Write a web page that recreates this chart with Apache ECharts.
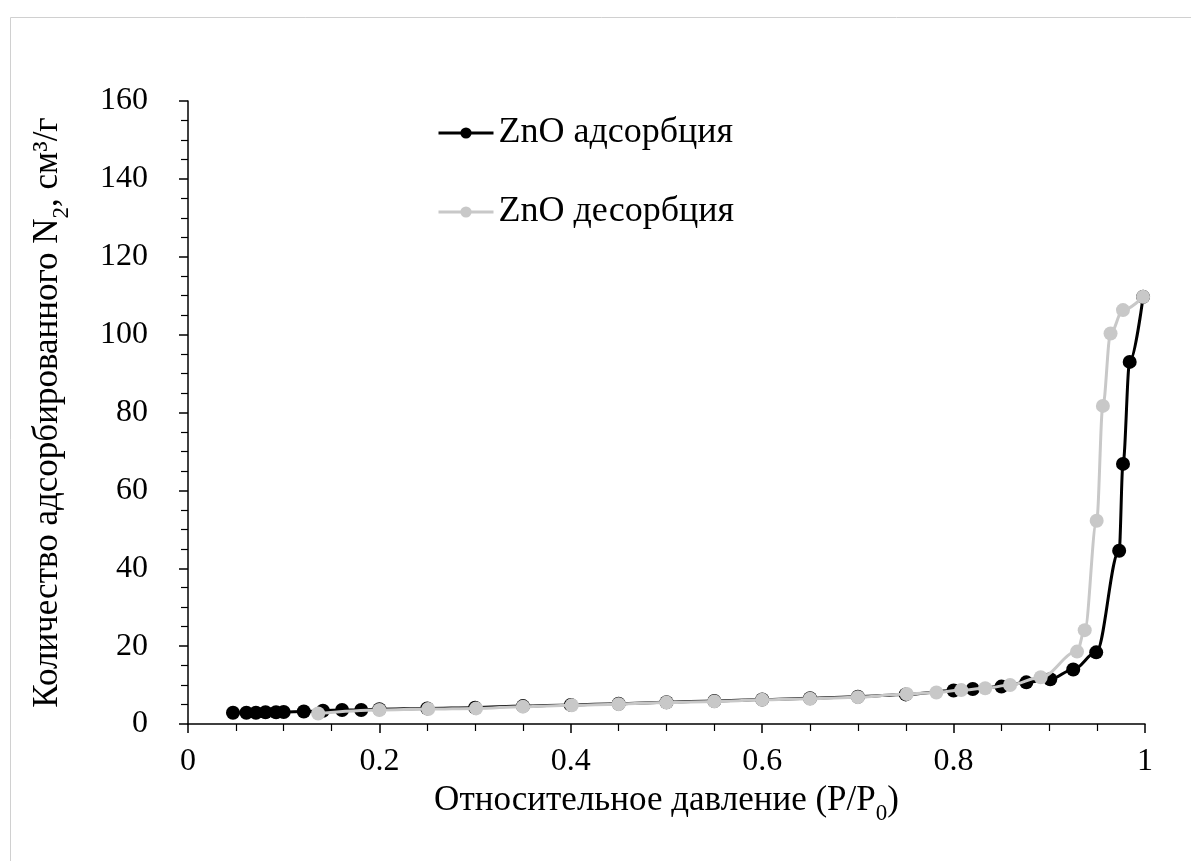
<!DOCTYPE html>
<html>
<head>
<meta charset="utf-8">
<script src="https://cdn.jsdelivr.net/npm/echarts@6/dist/echarts.min.js"></script>
<style>
  html, body { margin: 0; padding: 0; background: #fff; }
  #chart { width: 1191px; height: 861px; }
</style>
</head>
<body>
<div id="chart"></div>
<script>
// N2 adsorption–desorption isotherm for ZnO
const adsorptionP = [0.047, 0.061, 0.071, 0.081, 0.092, 0.100, 0.121, 0.141, 0.161, 0.181,
  0.200, 0.250, 0.300, 0.350, 0.400, 0.450, 0.500, 0.550, 0.600, 0.650, 0.700, 0.750,
  0.800, 0.820, 0.850, 0.876, 0.901, 0.925, 0.949, 0.973, 0.977, 0.984, 0.998];
const adsorptionV = [2.9, 2.9, 2.9, 3.0, 3.0, 3.1, 3.2, 3.4, 3.6, 3.6,
  3.8, 4.0, 4.2, 4.6, 4.9, 5.2, 5.6, 5.9, 6.3, 6.6, 7.0, 7.6,
  8.6, 9.0, 9.6, 10.7, 11.5, 14.0, 18.4, 44.5, 66.8, 93.0, 109.7];

const desorptionP = [0.998, 0.977, 0.964, 0.956, 0.9495, 0.937, 0.929, 0.891, 0.859, 0.833,
  0.808, 0.782, 0.751, 0.700, 0.650, 0.600, 0.550, 0.500, 0.450, 0.401, 0.350, 0.301,
  0.251, 0.200, 0.136];
const desorptionV = [109.7, 106.3, 100.3, 81.7, 52.2, 24.1, 18.6, 12.0, 10.0, 9.2,
  8.7, 8.1, 7.7, 6.9, 6.5, 6.2, 5.8, 5.5, 5.1, 4.8, 4.45, 4.0,
  3.85, 3.6, 2.7];

const seriesNames = ['ZnO адсорбция', 'ZnO десорбция'];
const xTitle = '{a|Относительное давление (P/P}{s|0}{a|)}';
const yTitle = '{a|Количество адсорбированного N}{s|2}{a|, см³/г}';

const FONT = '"Liberation Serif", "Times New Roman", serif';
const pairs = (xs, ys) => xs.map((x, i) => [x, ys[i]]);

// Main text is lifted by bottom padding, so the subscript sits below its baseline
const titleRich = {
  a: { fontFamily: FONT, fontSize: 35, color: '#000', lineHeight: 40, verticalAlign: 'bottom', padding: [0, 0, 8, 0] },
  s: { fontFamily: FONT, fontSize: 23, color: '#000', lineHeight: 24, verticalAlign: 'bottom' }
};

const axisCommon = {
  axisLine: { show: true, onZero: false, lineStyle: { color: '#000', width: 1.5 } },
  axisTick: { show: true, inside: false, length: 9, lineStyle: { color: '#000', width: 1.5 } },
  minorTick: { show: true, splitNumber: 4, length: 7, lineStyle: { color: '#000', width: 1.2 } },
  splitLine: { show: false }
};

const chart = echarts.init(document.getElementById('chart'), null, { renderer: 'canvas' });
chart.setOption({
  backgroundColor: '#fff',
  animation: false,
  graphic: [{
    type: 'rect',
    left: 8, top: 15,
    shape: { width: 1200, height: 900 },
    style: { fill: 'none', stroke: '#d0d0d0', lineWidth: 1 },
    silent: true
  }],
  grid: { left: 188, right: 46, top: 101, bottom: 137, containLabel: false },
  legend: {
    orient: 'vertical',
    left: 432, top: 110,
    itemWidth: 55, itemHeight: 14,
    itemGap: 43,
    lineStyle: { width: 3 },
    textStyle: { fontFamily: FONT, fontSize: 36, color: '#000' },
    data: seriesNames
  },
  xAxis: Object.assign({
    type: 'value',
    min: 0, max: 1, interval: 0.2,
    name: xTitle,
    nameLocation: 'middle',
    nameGap: 42,
    nameTextStyle: { rich: titleRich },
    axisLabel: {
      margin: 22,
      fontFamily: FONT, fontSize: 32, color: '#000',
      formatter: v => String(+v.toFixed(1))
    }
  }, axisCommon),
  yAxis: Object.assign({
    type: 'value',
    min: 0, max: 160, interval: 20,
    name: yTitle,
    nameLocation: 'middle',
    nameGap: 115,
    nameRotate: 90,
    nameTextStyle: { rich: titleRich },
    axisLabel: { margin: 40, fontFamily: FONT, fontSize: 32, color: '#000' }
  }, axisCommon),
  series: [
    {
      name: seriesNames[0],
      type: 'line',
      data: pairs(adsorptionP, adsorptionV),
      smooth: 0.35,
      smoothMonotone: 'x',
      symbol: 'circle',
      symbolSize: 14,
      itemStyle: { color: '#000' },
      lineStyle: { color: '#000', width: 3 },
      z: 2
    },
    {
      name: seriesNames[1],
      type: 'line',
      data: pairs(desorptionP, desorptionV),
      smooth: 0.35,
      smoothMonotone: 'x',
      symbol: 'circle',
      symbolSize: 14,
      itemStyle: { color: '#c8c8c8' },
      lineStyle: { color: '#c8c8c8', width: 3 },
      z: 3
    }
  ]
});
</script>
</body>
</html>
